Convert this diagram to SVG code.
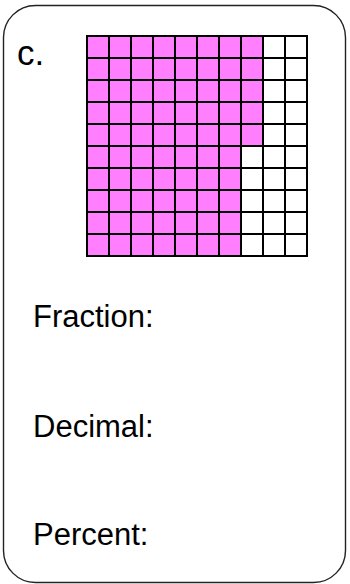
<svg xmlns="http://www.w3.org/2000/svg" width="350" height="584" viewBox="0 0 350 584">
<style>
.lbl{font-family:"Liberation Sans",Arial,sans-serif;font-size:31px;fill:#000}
.grid line{stroke:#000;stroke-width:2}
</style>
<rect x="3.5" y="5.5" width="342" height="577" rx="32" ry="32" fill="#fff" stroke="#222" stroke-width="1.4"/>
<text class="lbl" x="17" y="65" style="font-size:35px">c.</text>
<g id="grid">
<rect x="87" y="36" width="176" height="110" fill="#ff7fff"/>
<rect x="87" y="146" width="154" height="110" fill="#ff7fff"/>
<g class="grid">
<line x1="87" y1="36" x2="87" y2="256"/>
<line x1="109" y1="36" x2="109" y2="256"/>
<line x1="131" y1="36" x2="131" y2="256"/>
<line x1="153" y1="36" x2="153" y2="256"/>
<line x1="175" y1="36" x2="175" y2="256"/>
<line x1="197" y1="36" x2="197" y2="256"/>
<line x1="219" y1="36" x2="219" y2="256"/>
<line x1="241" y1="36" x2="241" y2="256"/>
<line x1="263" y1="36" x2="263" y2="256"/>
<line x1="285" y1="36" x2="285" y2="256"/>
<line x1="307" y1="36" x2="307" y2="256"/>
<line x1="86" y1="36" x2="308" y2="36"/>
<line x1="86" y1="58" x2="308" y2="58"/>
<line x1="86" y1="80" x2="308" y2="80"/>
<line x1="86" y1="102" x2="308" y2="102"/>
<line x1="86" y1="124" x2="308" y2="124"/>
<line x1="86" y1="146" x2="308" y2="146"/>
<line x1="86" y1="168" x2="308" y2="168"/>
<line x1="86" y1="190" x2="308" y2="190"/>
<line x1="86" y1="212" x2="308" y2="212"/>
<line x1="86" y1="234" x2="308" y2="234"/>
<line x1="86" y1="256" x2="308" y2="256"/>
</g>
</g>
<text class="lbl" x="33" y="327">Fraction:</text>
<text class="lbl" x="33" y="437">Decimal:</text>
<text class="lbl" x="33" y="545">Percent:</text>
</svg>
